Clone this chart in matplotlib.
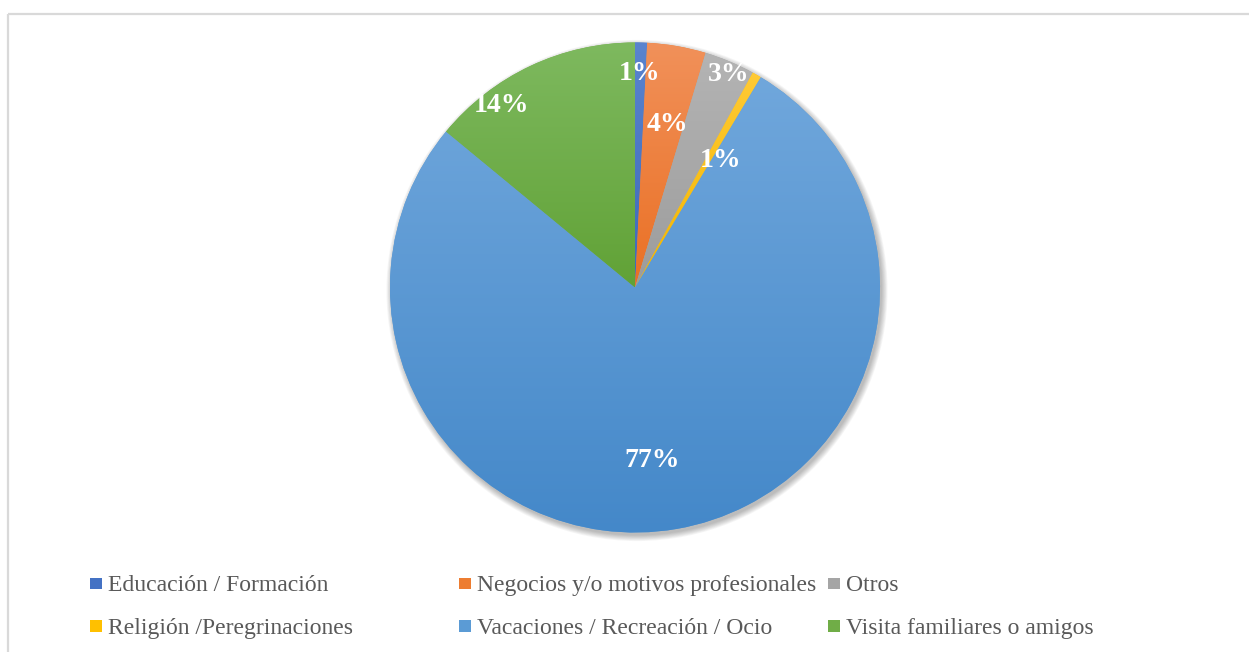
import numpy as np
import matplotlib
matplotlib.use("Agg")
import matplotlib.pyplot as plt
from matplotlib.patches import Circle, Rectangle
from matplotlib.colors import to_rgb

# ---- data ----
categories = ["Educación / Formación", "Negocios y/o motivos profesionales", "Otros",
              "Religión /Peregrinaciones", "Vacaciones / Recreación / Ocio",
              "Visita familiares o amigos"]
values = [0.79, 3.86, 3.33, 0.60, 77.40, 14.02]
labels = ["1%", "4%", "3%", "1%", "77%", "14%"]
colors = ["#4472C4", "#ED7D31", "#A5A5A5", "#FFC000", "#5B9BD5", "#70AD47"]
# gradient styling (top, bottom) per slice
grad_top = ["#5A84CF", "#F1915A", "#B4B4B4", "#FFCA35", "#70A7DC", "#7EB95F"]
grad_bot = ["#3D69B9", "#EA7024", "#9C9C9C", "#F2B500", "#4488C9", "#61A236"]

# label placement (clockwise angle from top in degrees, radius fraction)
label_pos = [(1.3, 0.874), (11.4, 0.679), (23.8, 0.950), (34.1, 0.626),
             (174.4, 0.709), (-36.2, 0.920)]

W, H = 1249, 652
fig = plt.figure(figsize=(W / 100, H / 100), dpi=100)
ax = fig.add_axes([0, 0, 1, 1])
ax.set_axis_off()

cx, cy, R = 635, H - 287.5, 245

# shadow
for i in range(8):
    ax.add_patch(Circle((cx + 2, cy - 3), R + i * 0.8, color="black",
                        alpha=0.035, lw=0, zorder=0))

wedges, _ = ax.pie(values, colors=colors, startangle=90, counterclock=False,
                   center=(cx, cy), radius=R, frame=True,
                   wedgeprops=dict(linewidth=0))

for w, ct, cb in zip(wedges, grad_top, grad_bot):
    w.set_zorder(2)
    verts = w.get_patch_transform().transform(w.get_path().vertices)
    x0, x1 = verts[:, 0].min(), verts[:, 0].max()
    y0, y1 = verts[:, 1].min(), verts[:, 1].max()
    n = 256
    t = np.linspace(0, 1, n)[:, None]
    bot = np.array(to_rgb(cb))
    top = np.array(to_rgb(ct))
    grad = bot[None, :] * (1 - t) + top[None, :] * t
    img = np.ones((n, 1, 4))
    img[:, 0, :3] = grad
    im = ax.imshow(img, extent=[x0, x1, y0, y1], origin="lower",
                   aspect="auto", zorder=3, interpolation="bilinear")
    im.set_clip_path(w)

for (a, r), lab in zip(label_pos, labels):
    ang = np.deg2rad(a)
    ax.text(cx + r * R * np.sin(ang), cy + r * R * np.cos(ang), lab,
            family="Liberation Serif", fontweight="bold", fontsize=20,
            color="white", ha="center", va="center", zorder=5)

# legend (manual, row-wise like the original)
col_x = [90, 459, 828]
row_base = [H - 590.7, H - 634]
row_mark = [H - 589, H - 631.7]
for i, (cat, c) in enumerate(zip(categories, colors)):
    row, col = divmod(i, 3)
    mx = col_x[col]
    ax.add_patch(Rectangle((mx, row_mark[row]), 12, 11.5, color=c, lw=0, zorder=4))
    ax.text(mx + 18, row_base[row], cat, family="Liberation Serif", fontsize=17,
            color="#595959", ha="left", va="baseline", zorder=5)

# chart border
ax.plot([8, W], [H - 13.5, H - 13.5], color="#D9D9D9", lw=1.6, zorder=1,
        solid_capstyle="butt")
ax.plot([8.5, 8.5], [0, H - 13.5], color="#D9D9D9", lw=1.6, zorder=1,
        solid_capstyle="butt")

ax.set_xlim(0, W)
ax.set_ylim(0, H)
ax.set_aspect("auto")
fig.savefig("out.png", dpi=100, facecolor="white")
